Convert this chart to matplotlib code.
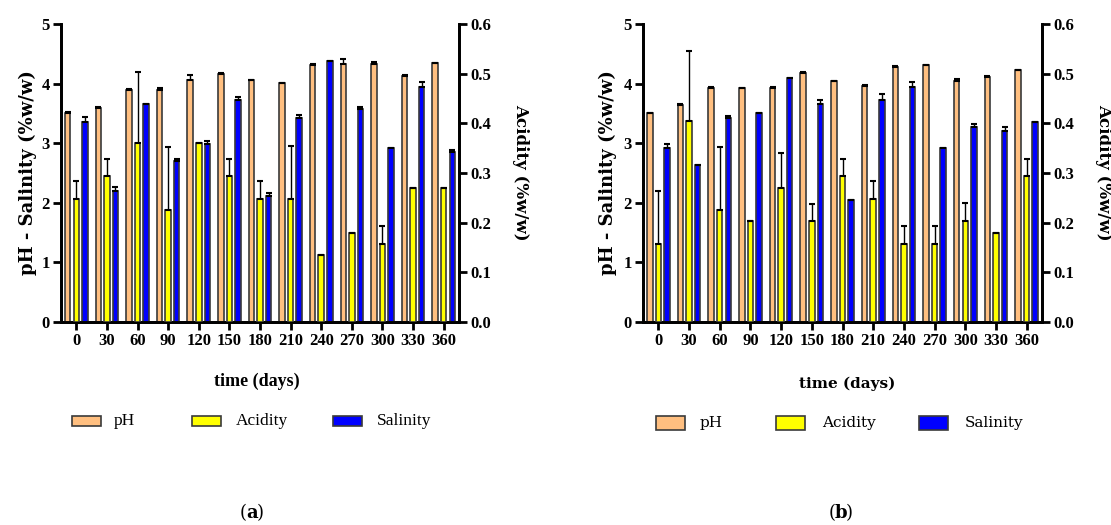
"""
plot.py
Two-panel grouped bar chart: pH, acidity and salinity over storage time.
"""

import matplotlib
matplotlib.use("Agg")
import matplotlib.pyplot as plt
from matplotlib.patches import Rectangle
import numpy as np

# ---- data -------------------------------------------------------------
days = ["0", "30", "60", "90", "120", "150", "180", "210", "240", "270", "300", "330", "360"]
series_names = ["pH", "Acidity", "Salinity"]

ph_a = [3.51, 3.59, 3.89, 3.89, 4.06, 4.16, 4.06, 4.01, 4.32, 4.33, 4.33, 4.13, 4.34]
ph_a_err = [0.01, 0.01, 0.02, 0.04, 0.09, 0.01, 0.0, 0.0, 0.01, 0.08, 0.03, 0.02, 0.01]
acid_a = [0.248, 0.293, 0.360, 0.225, 0.360, 0.293, 0.248, 0.248, 0.135, 0.180, 0.158, 0.270, 0.270]
acid_a_err = [0.036, 0.035, 0.143, 0.128, 0.0, 0.035, 0.036, 0.107, 0.0, 0.0, 0.035, 0.0, 0.0]
sal_a = [3.36, 2.19, 3.65, 2.70, 2.99, 3.73, 2.12, 3.43, 4.38, 3.58, 2.92, 3.94, 2.85]
sal_a_err = [0.08, 0.07, 0.0, 0.03, 0.04, 0.05, 0.04, 0.04, 0.0, 0.03, 0.0, 0.09, 0.03]

ph_b = [3.50, 3.64, 3.92, 3.93, 3.93, 4.17, 4.05, 3.96, 4.28, 4.31, 4.05, 4.11, 4.23]
ph_b_err = [0.01, 0.01, 0.02, 0.0, 0.02, 0.02, 0.0, 0.02, 0.01, 0.01, 0.02, 0.01, 0.0]
acid_b = [0.158, 0.405, 0.225, 0.203, 0.270, 0.203, 0.293, 0.248, 0.158, 0.158, 0.203, 0.180, 0.293]
acid_b_err = [0.105, 0.141, 0.128, 0.0, 0.070, 0.035, 0.035, 0.036, 0.035, 0.035, 0.036, 0.0, 0.036]
sal_b = [2.92, 2.63, 3.43, 3.50, 4.09, 3.65, 2.04, 3.73, 3.94, 2.92, 3.28, 3.21, 3.35]
sal_b_err = [0.07, 0.0, 0.03, 0.0, 0.0, 0.08, 0.0, 0.10, 0.09, 0.0, 0.04, 0.07, 0.0]

# ---- style ------------------------------------------------------------
colors = ["#FFBF80", "#FFFF00", "#0000FF"]
edge = "#3a3a3a"
W, H = 1111, 525
bold_font = "DejaVu Serif"

plt.rcParams["font.family"] = "Liberation Serif"


def fx(x):
    return x / W


def fy(y):
    return 1 - y / H


def draw_panel(rect, ph, ph_err, acid, acid_err, sal, sal_err):
    ax = fig.add_axes(rect)
    ax2 = ax.twinx()
    x = np.arange(len(days))
    off, bw = 0.28, 0.18
    ekw = dict(elinewidth=1.0, capthick=1.5, ecolor="black")

    ax.bar(x - off, ph, bw, color=colors[0], edgecolor=edge, linewidth=1.2,
           yerr=[np.zeros(len(ph)), ph_err], capsize=2, error_kw=ekw, zorder=3)
    ax.bar(x + off, sal, bw, color=colors[2], edgecolor=edge, linewidth=1.2,
           yerr=[np.zeros(len(sal)), sal_err], capsize=2, error_kw=ekw, zorder=3)
    ax2.bar(x, acid, bw, color=colors[1], edgecolor=edge, linewidth=1.2,
            yerr=[np.zeros(len(acid)), acid_err], capsize=2, error_kw=ekw, zorder=3)

    ax.set_xlim(-0.5, len(days) - 0.5)
    ax.set_ylim(0, 5)
    ax2.set_ylim(0, 0.6)
    ax.set_yticks(range(0, 6))
    ax2.set_yticks(np.arange(0, 0.61, 0.1))
    ax2.set_yticklabels([f"{v:.1f}" for v in np.arange(0, 0.61, 0.1)])
    ax.set_xticks(x)
    ax.set_xticklabels(days)

    for a in (ax, ax2):
        a.spines["top"].set_visible(False)
        for s in ("left", "right", "bottom"):
            a.spines[s].set_linewidth(2)
        a.tick_params(length=6, width=2, pad=2, labelsize=12)
        for lab in a.get_xticklabels() + a.get_yticklabels():
            lab.set_fontweight("bold")
    return ax, ax2


fig = plt.figure(figsize=(W / 100, H / 100), dpi=100)

panels = [
    (61, 398, ph_a, ph_a_err, acid_a, acid_a_err, sal_a, sal_a_err),
    (643, 399, ph_b, ph_b_err, acid_b, acid_b_err, sal_b, sal_b_err),
]
for left, width, *vals in panels:
    rect = [fx(left), fy(322), width / W, 298 / H]
    draw_panel(rect, *vals)

# axis titles
lab_kw = dict(ha="center", va="center", fontweight="bold", family=bold_font)
fig.text(fx(28), fy(173), "pH - Salinity (%w/w)", rotation=90, fontsize=13, **lab_kw)
fig.text(fx(521), fy(172), "Acidity (%w/w)", rotation=-90, fontsize=12, **lab_kw)
fig.text(fx(608), fy(173), "pH - Salinity (%w/w)", rotation=90, fontsize=13, **lab_kw)
fig.text(fx(1104), fy(172), "Acidity (%w/w)", rotation=-90, fontsize=12, **lab_kw)
fig.text(fx(257), fy(381), "time (days)", ha="center", va="center",
         fontsize=13, fontweight="bold", family="Liberation Serif")
fig.text(fx(847), fy(384), "time (days)", ha="center", va="center",
         fontsize=11, fontweight="bold", family=bold_font)

# legends
legend_a = [(72, 114), (192, 236), (333, 377)]
legend_b = [(656, 700), (776, 822), (919, 965)]
leg_styles = (
    (legend_a, 421, 10, dict(fontsize=12.5, family="Liberation Serif")),
    (legend_b, 423, 14, dict(fontsize=11, family=bold_font)),
)
for items, yc, ph_h, tkw in leg_styles:
    for (px, tx), name, c in zip(items, series_names, colors):
        fig.add_artist(Rectangle((fx(px), fy(yc + ph_h / 2)), 29 / W, ph_h / H,
                                 transform=fig.transFigure, facecolor=c,
                                 edgecolor=edge, linewidth=1.2))
        fig.text(fx(tx), fy(yc), name, ha="left", va="center", **tkw)

# panel captions
for cx, letter in ((252, "a"), (841, "b")):
    fig.text(fx(cx), fy(513), letter, ha="center", va="center", fontsize=13,
             fontweight="bold", family=bold_font)
    fig.text(fx(cx - 5), fy(513), "(", ha="right", va="center", fontsize=13,
             family=bold_font)
    fig.text(fx(cx + 5), fy(513), ")", ha="left", va="center", fontsize=13,
             family=bold_font)

fig.savefig("out.png", dpi=100)
